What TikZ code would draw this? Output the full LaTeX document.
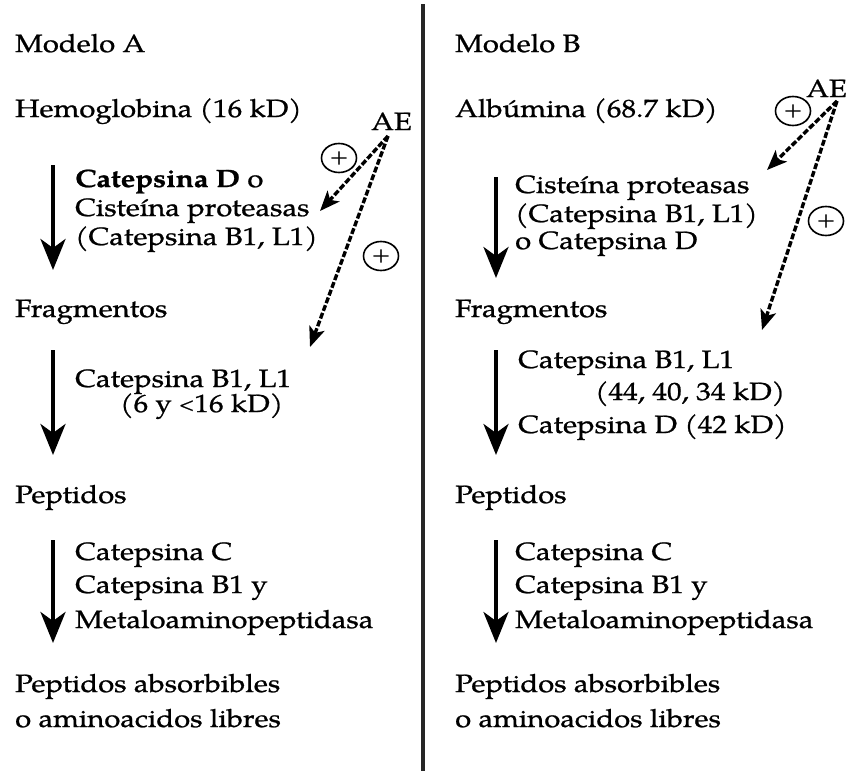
\documentclass[tikz,border=0pt]{standalone}
\usepackage{fontspec}
\setmainfont{TeX Gyre Pagella}[FakeStretch=1.17, FakeBold=0.9]
\usetikzlibrary{arrows.meta,shapes.geometric}

\begin{document}
\begin{tikzpicture}[x=1pt, y=-1pt,
  lbl/.style={anchor=base west, inner sep=0pt, font=\fontsize{25}{29}\selectfont},
  flow/.style={line width=4pt, -{Stealth[length=31pt, width=25pt, inset=9pt]}},
  act/.style={line width=3.4pt, dash pattern=on 6pt off 2.2pt, -{Stealth[length=20pt, width=16pt, inset=5pt]}},
  plusmark/.style={ellipse, draw, line width=1.6pt, minimum width=35pt, minimum height=29pt, inner sep=0pt, font=\fontsize{21}{21}\selectfont}]
 \useasboundingbox (0,0) rectangle (847,771);
 % dividing line between the two models
 \coordinate (divtop) at (423,4);
 \coordinate (divbot) at (423,771);
 \draw[line width=3.5pt, black!85] (divtop) -- (divbot);

 % Modelo A
 \node[lbl] (modA) at (15,52) {Modelo A};
 \node[lbl] (hemo) at (15,117) {Hemoglobina (16 kD)};
 \node[lbl] (aeA) at (371,130) {AE};
 \node[lbl] (enzA1a) at (75,187) {\textbf{Catepsina D} o};
 \node[lbl] (enzA1b) at (75,216) {Cisteína proteasas};
 \node[lbl] (enzA1c) at (75,245) {(Catepsina B1, L1)};
 \node[lbl] (fragA) at (15,317) {Fragmentos};
 \node[lbl] (enzA2a) at (75,387) {Catepsina B1, L1};
 \node[lbl] (enzA2b) at (120,412) {(6 y {\fontsize{17}{17}\selectfont\raisebox{2pt}{<}}16 kD)};
 \node[lbl] (pepA) at (15,503) {Peptidos};
 \node[lbl] (enzA3a) at (75,560) {Catepsina C};
 \node[lbl] (enzA3b) at (75,593) {Catepsina B1 y};
 \node[lbl] (enzA3c) at (75,628) {Metaloaminopeptidasa};
 \node[lbl] (finA1) at (15,692) {Peptidos absorbibles};
 \node[lbl] (finA2) at (15,727) {o aminoacidos libres};
 \node[plusmark] (plusA1) at (339,158) {+};
 \node[plusmark] (plusA2) at (381,256) {+};

 % Modelo B
 \node[lbl] (modB) at (455,52) {Modelo B};
 \node[lbl] (albu) at (455,117) {Albúmina (68.7 kD)};
 \node[lbl] (aeB) at (806,97) {AE};
 \node[lbl] (enzB1a) at (515,193) {Cisteína proteasas};
 \node[lbl] (enzB1b) at (515,222) {(Catepsina B1, L1)};
 \node[lbl] (enzB1c) at (515,249) {o Catepsina D};
 \node[lbl] (fragB) at (455,317) {Fragmentos};
 \node[lbl] (enzB2a) at (518,368) {Catepsina B1, L1};
 \node[lbl] (enzB2b) at (595,400) {(44, 40, 34 kD)};
 \node[lbl] (enzB2c) at (518,433) {Catepsina D (42 kD)};
 \node[lbl] (pepB) at (455,503) {Peptidos};
 \node[lbl] (enzB3a) at (515,560) {Catepsina C};
 \node[lbl] (enzB3b) at (515,593) {Catepsina B1 y};
 \node[lbl] (enzB3c) at (515,628) {Metaloaminopeptidasa};
 \node[lbl] (finB1) at (455,692) {Peptidos absorbibles};
 \node[lbl] (finB2) at (455,727) {o aminoacidos libres};
 \node[plusmark] (plusB1) at (793,111) {+};
 \node[plusmark] (plusB2) at (826,221) {+};

 % solid reaction arrows
 \coordinate (sA1) at (53,165); \coordinate (eA1) at (53,270);
 \coordinate (sA2) at (53,350); \coordinate (eA2) at (53,455);
 \coordinate (sA3) at (53,540); \coordinate (eA3) at (53,643);
 \coordinate (sB1) at (496,177); \coordinate (eB1) at (496,278);
 \coordinate (sB2) at (496,350); \coordinate (eB2) at (496,455);
 \coordinate (sB3) at (496,540); \coordinate (eB3) at (496,643);
 \foreach \k in {A1,A2,A3,B1,B2,B3}
  \draw[flow] (s\k) -- (e\k);

 % dashed activation arrows from AE
 \coordinate (srcA) at (388,136);
 \coordinate (tipA1) at (320,211);
 \coordinate (tipA2) at (310,347);
 \coordinate (srcB) at (837,101);
 \coordinate (tipB1) at (767,170);
 \coordinate (tipB2) at (762,330);
 \draw[act] (srcA) -- (tipA1);
 \draw[act] (srcA) -- (tipA2);
 \draw[act] (srcB) -- (tipB1);
 \draw[act] (srcB) -- (tipB2);
\end{tikzpicture}
\end{document}
